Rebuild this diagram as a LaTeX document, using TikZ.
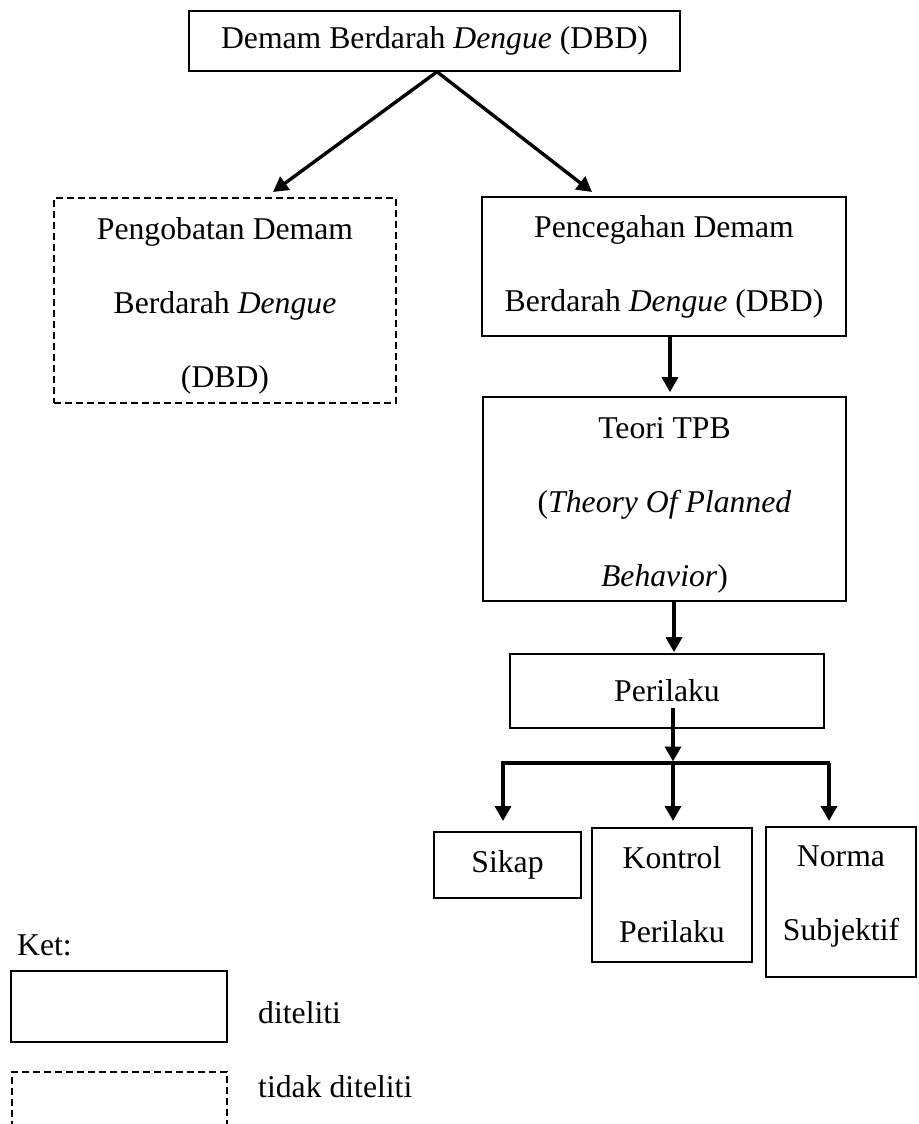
\documentclass[tikz,border=0pt]{standalone}
\usepackage{fontspec}
\setmainfont{Liberation Serif}
\usetikzlibrary{arrows.meta}
\newcommand{\dfont}{\fontsize{31.7}{74}\selectfont}
\begin{document}
\begin{tikzpicture}[x=1pt,y=-1pt,
  box/.style={draw, line width=1.6pt, inner sep=0pt, align=center, font=\dfont},
  dbox/.style={box, dash pattern=on 7pt off 4pt},
  txt/.style={inner sep=0pt, align=center, font=\dfont},
  arr/.style={line width=3.4pt, -{Triangle[length=15pt,width=16pt]}},
  bar/.style={line width=3.4pt},
  lbl/.style={inner sep=0pt, font=\dfont, anchor=west}]
\useasboundingbox (0,0) rectangle (918,1124);
% boxes
\node[box, minimum width=491pt, minimum height=60pt] (top) at (434.5,41) {Demam Berdarah \textit{Dengue} (DBD)};
\node[dbox, minimum width=342pt, minimum height=205pt] (obat) at (225,300.5) {};
\node[txt] (obattext) at (225,306) {Pengobatan Demam\\Berdarah \textit{Dengue}\\(DBD)};
\node[box, minimum width=364pt, minimum height=139pt] (cegah) at (664,266.5) {Pencegahan Demam\\Berdarah \textit{Dengue} (DBD)};
\node[box, minimum width=363pt, minimum height=204pt] (tpb) at (664.5,499) {};
\node[txt] (tpbtext) at (664.5,505) {Teori TPB\\(\textit{Theory Of Planned}\\\textit{Behavior})};
\node[box, minimum width=314pt, minimum height=74pt] (perilaku) at (667,691) {Perilaku};
\node[box, minimum width=147pt, minimum height=66pt] (sikap) at (507.5,865) {Sikap};
\node[box, minimum width=160pt, minimum height=134pt] (kontrol) at (672,895) {Kontrol\\Perilaku};
\node[box, minimum width=150pt, minimum height=150pt] (norma) at (841,902) {};
\node[txt] (normatext) at (841,896) {Norma\\Subjektif};
% connectors
\coordinate (tipL) at (273,192);
\coordinate (tipR) at (592,192);
\draw[arr] ([xshift=2.5pt]top.south) -- (tipL);
\draw[arr] ([xshift=2.5pt]top.south) -- (tipR);
\draw[arr] ([xshift=6pt]cegah.south) -- ([xshift=5.5pt,yshift=4pt]tpb.north);
\draw[arr] ([xshift=9.5pt]tpb.south) -- ([xshift=7pt,yshift=1pt]perilaku.north);
\coordinate (bl) at (501,763);
\coordinate (bm) at (673,763);
\coordinate (br) at (830,763);
\draw[arr] ([xshift=6pt,yshift=-17pt]perilaku.center) -- ([yshift=1.5pt]bm);
\draw[bar] (bl) -- (br);
\coordinate (d1) at (503,763);
\coordinate (d2) at (673,763);
\coordinate (d3) at (829,763);
\coordinate (e1) at (503,821);
\coordinate (e2) at (673,821);
\coordinate (e3) at (829,821);
\draw[arr] (d1) -- (e1);
\draw[arr] (d2) -- (e2);
\draw[arr] (d3) -- (e3);
% legend
\node[lbl] (ket) at (17,945) {Ket:};
\node[box, minimum width=216pt, minimum height=71pt] (legsolid) at (119,1006.5) {};
\node[lbl] (ltel) at (258,1013) {diteliti};
\begin{scope}
\clip (0,0) rectangle (918,1124);
\node[dbox, minimum width=215pt, minimum height=71pt] (legdash) at (119.5,1107.5) {};
\end{scope}
\node[lbl] (ltidak) at (258,1087) {tidak diteliti};
\end{tikzpicture}
\end{document}
